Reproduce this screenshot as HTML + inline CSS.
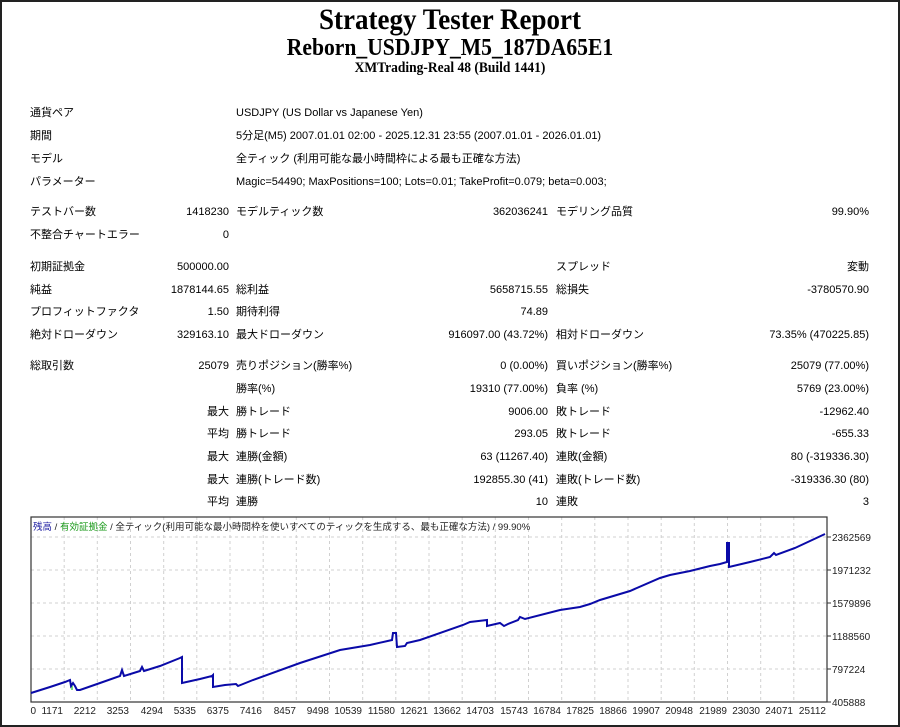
<!DOCTYPE html>
<html><head><meta charset="utf-8"><style>
html,body{margin:0;padding:0;background:#fff}
#w{position:relative;width:896px;height:723px;border:2px solid #222;overflow:hidden;font-family:"Liberation Sans","Noto Sans CJK JP",sans-serif;font-size:11px;color:#000}
.t{position:absolute;white-space:nowrap;line-height:14px}
.r{text-align:right}
h1,h2,h3{position:absolute;left:0;width:896px;margin:0;text-align:center;font-family:"Liberation Serif",serif;font-weight:bold;transform:scaleX(0.9)}
</style></head><body><div id="w">
<h1 style="top:1px;font-size:30px">Strategy Tester Report</h1>
<h2 style="top:33px;font-size:24px">Reborn_USDJPY_M5_187DA65E1</h2>
<h3 style="top:58px;font-size:15px">XMTrading-Real 48 (Build 1441)</h3>

<div class="t" style="left:28px;top:104px">通貨ペア</div><div class="t" style="left:234px;top:104px">USDJPY (US Dollar vs Japanese Yen)</div>
<div class="t" style="left:28px;top:127px">期間</div><div class="t" style="left:234px;top:127px">5分足(M5) 2007.01.01 02:00 - 2025.12.31 23:55 (2007.01.01 - 2026.01.01)</div>
<div class="t" style="left:28px;top:150px">モデル</div><div class="t" style="left:234px;top:150px">全ティック (利用可能な最小時間枠による最も正確な方法)</div>
<div class="t" style="left:28px;top:173px">パラメーター</div><div class="t" style="left:234px;top:173px">Magic=54490; MaxPositions=100; Lots=0.01; TakeProfit=0.079; beta=0.003;</div>

<div class="t" style="left:28px;top:203px">テストバー数</div><div class="t r" style="right:669px;top:203px">1418230</div>
<div class="t" style="left:234px;top:203px">モデルティック数</div><div class="t r" style="right:350px;top:203px">362036241</div>
<div class="t" style="left:554px;top:203px">モデリング品質</div><div class="t r" style="right:29px;top:203px">99.90%</div>
<div class="t" style="left:28px;top:226px">不整合チャートエラー</div><div class="t r" style="right:669px;top:226px">0</div>

<div class="t" style="left:28px;top:258px">初期証拠金</div><div class="t r" style="right:669px;top:258px">500000.00</div>
<div class="t" style="left:554px;top:258px">スプレッド</div><div class="t r" style="right:29px;top:258px">変動</div>
<div class="t" style="left:28px;top:281px">純益</div><div class="t r" style="right:669px;top:281px">1878144.65</div>
<div class="t" style="left:234px;top:281px">総利益</div><div class="t r" style="right:350px;top:281px">5658715.55</div>
<div class="t" style="left:554px;top:281px">総損失</div><div class="t r" style="right:29px;top:281px">-3780570.90</div>
<div class="t" style="left:28px;top:303px">プロフィットファクタ</div><div class="t r" style="right:669px;top:303px">1.50</div>
<div class="t" style="left:234px;top:303px">期待利得</div><div class="t r" style="right:350px;top:303px">74.89</div>
<div class="t" style="left:28px;top:326px">絶対ドローダウン</div><div class="t r" style="right:669px;top:326px">329163.10</div>
<div class="t" style="left:234px;top:326px">最大ドローダウン</div><div class="t r" style="right:350px;top:326px">916097.00 (43.72%)</div>
<div class="t" style="left:554px;top:326px">相対ドローダウン</div><div class="t r" style="right:29px;top:326px">73.35% (470225.85)</div>

<div class="t" style="left:28px;top:357px">総取引数</div><div class="t r" style="right:669px;top:357px">25079</div>
<div class="t" style="left:234px;top:357px">売りポジション(勝率%)</div><div class="t r" style="right:350px;top:357px">0 (0.00%)</div>
<div class="t" style="left:554px;top:357px">買いポジション(勝率%)</div><div class="t r" style="right:29px;top:357px">25079 (77.00%)</div>
<div class="t" style="left:234px;top:380px">勝率(%)</div><div class="t r" style="right:350px;top:380px">19310 (77.00%)</div>
<div class="t" style="left:554px;top:380px">負率 (%)</div><div class="t r" style="right:29px;top:380px">5769 (23.00%)</div>
<div class="t r" style="right:669px;top:403px">最大</div><div class="t" style="left:234px;top:403px">勝トレード</div><div class="t r" style="right:350px;top:403px">9006.00</div>
<div class="t" style="left:554px;top:403px">敗トレード</div><div class="t r" style="right:29px;top:403px">-12962.40</div>
<div class="t r" style="right:669px;top:425px">平均</div><div class="t" style="left:234px;top:425px">勝トレード</div><div class="t r" style="right:350px;top:425px">293.05</div>
<div class="t" style="left:554px;top:425px">敗トレード</div><div class="t r" style="right:29px;top:425px">-655.33</div>
<div class="t r" style="right:669px;top:448px">最大</div><div class="t" style="left:234px;top:448px">連勝(金額)</div><div class="t r" style="right:350px;top:448px">63 (11267.40)</div>
<div class="t" style="left:554px;top:448px">連敗(金額)</div><div class="t r" style="right:29px;top:448px">80 (-319336.30)</div>
<div class="t r" style="right:669px;top:471px">最大</div><div class="t" style="left:234px;top:471px">連勝(トレード数)</div><div class="t r" style="right:350px;top:471px">192855.30 (41)</div>
<div class="t" style="left:554px;top:471px">連敗(トレード数)</div><div class="t r" style="right:29px;top:471px">-319336.30 (80)</div>
<div class="t r" style="right:669px;top:493px">平均</div><div class="t" style="left:234px;top:493px">連勝</div><div class="t r" style="right:350px;top:493px">10</div>
<div class="t" style="left:554px;top:493px">連敗</div><div class="t r" style="right:29px;top:493px">3</div>

<svg style="position:absolute;left:-2px;top:-2px" width="900" height="727" font-family="Liberation Sans, Noto Sans CJK JP, sans-serif" font-size="10">
<g stroke="#d0d0d0" stroke-dasharray="3,3" stroke-width="1">
<line x1="31" y1="537" x2="827" y2="537"/><line x1="31" y1="570" x2="827" y2="570"/><line x1="31" y1="603" x2="827" y2="603"/><line x1="31" y1="636" x2="827" y2="636"/><line x1="31" y1="669" x2="827" y2="669"/>
<path d="M64.2 517V702M97.3 517V702M130.5 517V702M163.7 517V702M196.8 517V702M230 517V702M263.2 517V702M296.3 517V702M329.5 517V702M362.7 517V702M395.8 517V702M429 517V702M462.2 517V702M495.3 517V702M528.5 517V702M561.7 517V702M594.8 517V702M628 517V702M661.2 517V702M694.3 517V702M727.5 517V702M760.7 517V702M793.8 517V702"/>
</g>
<rect x="31" y="517" width="796" height="185" fill="none" stroke="#333" stroke-width="1.2"/>
<g stroke="#333"><line x1="827" y1="537" x2="831" y2="537"/><line x1="827" y1="570" x2="831" y2="570"/><line x1="827" y1="603" x2="831" y2="603"/><line x1="827" y1="636" x2="831" y2="636"/><line x1="827" y1="669" x2="831" y2="669"/><line x1="827" y1="702" x2="831" y2="702"/></g>
<g fill="#222" font-size="10">
<text x="832" y="541">2362569</text><text x="832" y="574">1971232</text><text x="832" y="607">1579896</text><text x="832" y="640">1188560</text><text x="832" y="673">797224</text><text x="832" y="706">405888</text>
<g text-anchor="end">
<text x="36" y="714">0</text><text x="63" y="714">1171</text><text x="96" y="714">2212</text><text x="129" y="714">3253</text><text x="163" y="714">4294</text><text x="196" y="714">5335</text><text x="229" y="714">6375</text><text x="262" y="714">7416</text><text x="296" y="714">8457</text><text x="329" y="714">9498</text><text x="362" y="714">10539</text><text x="395" y="714">11580</text><text x="428" y="714">12621</text><text x="461" y="714">13662</text><text x="494" y="714">14703</text><text x="528" y="714">15743</text><text x="561" y="714">16784</text><text x="594" y="714">17825</text><text x="627" y="714">18866</text><text x="660" y="714">19907</text><text x="693" y="714">20948</text><text x="727" y="714">21989</text><text x="760" y="714">23030</text><text x="793" y="714">24071</text><text x="826" y="714">25112</text>
</g>
<text x="33" y="530" font-size="9.5"><tspan fill="#1a1aa0">残高</tspan> / <tspan fill="#1a9a1a">有効証拠金</tspan> / 全ティック(利用可能な最小時間枠を使いすべてのティックを生成する、最も正確な方法) / 99.90%</text>
</g>
<g fill="none" stroke="#22cc22" stroke-width="1.2"><path d="M72 683V690M182 657V683M213 675V687M729 562V567"/></g>
<polyline fill="none" stroke="#0a0aa8" stroke-width="2" points="31,693 50,687 65,682 70,680 71,686 73,683 75,686 77,690 80,690 100,683 120,676 122,670 124,676 140,671 142,667 144,671 160,666 180,658 182,657 182,683 200,679 212,676 213,675 213,687 225,685 236,684 238,686 253,680 300,663 340,650 370,645 392,640 393,633 396,633 397,647 405,646 407,643 420,640 463,625 470,622 487,620 487,626 500,623 504,626 508,624 518,620 520,617 525,619 560,610 580,607 590,604 600,600 630,591 660,578 670,575 690,571 710,566 720,564 727,562 727,543 729,543 729,567 750,562 770,557 774,553 776,555 795,548 825,534"/>
</svg>
</div></body></html>
